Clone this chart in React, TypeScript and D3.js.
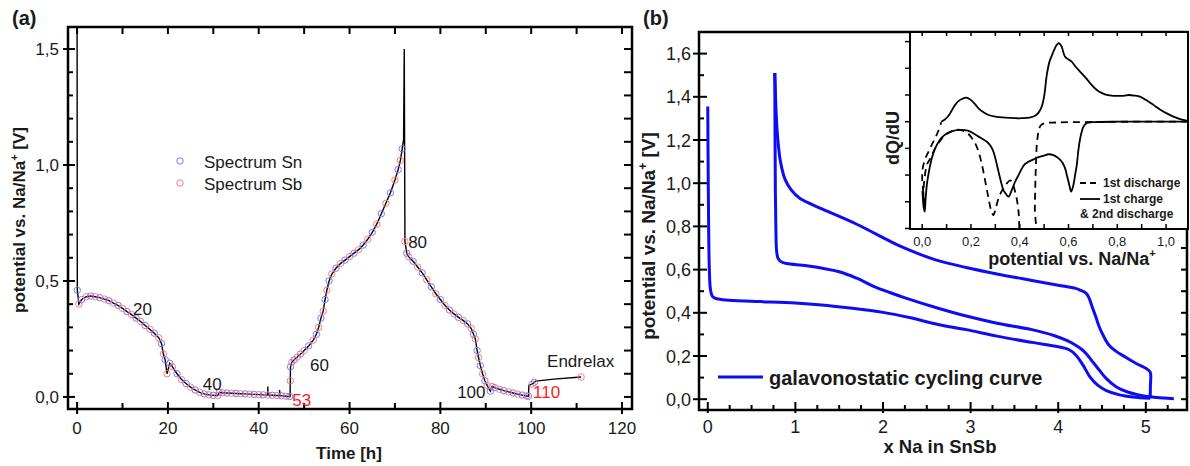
import React from 'react';
import * as d3 from 'd3';

const FONT = "'Liberation Sans', Arial, Helvetica, sans-serif";

// ---------- Panel (a) data ----------
const timeTicksA = [0, 20, 40, 60, 80, 100, 120];
const potTicksA = [0, 0.5, 1.0, 1.5];
const potLabelsA = ['0,0', '0,5', '1,0', '1,5'];
// [time h, potential V, marker(1) or plain line point(0)]
const cycleA: [number, number, number][] = [
  [0, 1.6, 0], [0.05, 0.46, 1], [0.4, 0.4, 1], [1, 0.42, 1], [2, 0.432, 1], [3, 0.435, 1], [4, 0.432, 1],
  [5, 0.428, 1], [6, 0.422, 1], [7, 0.415, 1], [8, 0.405, 1], [9, 0.395, 1], [10, 0.382, 1], [11, 0.368, 1],
  [12, 0.355, 1], [13, 0.34, 1], [14, 0.325, 1], [15, 0.308, 1], [16, 0.292, 1], [17, 0.275, 1],
  [18, 0.255, 1], [18.6, 0.23, 1], [19, 0.185, 1], [19.4, 0.16, 1], [19.8, 0.1, 1], [20.4, 0.145, 1],
  [21, 0.13, 1], [22, 0.1, 1], [23, 0.075, 1], [24, 0.058, 1], [25, 0.042, 1], [26, 0.03, 1], [27, 0.02, 1],
  [28, 0.013, 1], [29, 0.009, 1], [30, 0.007, 1], [31, 0.006, 1], [31.3, 0.02, 1], [32, 0.018, 1],
  [33, 0.017, 1], [34, 0.016, 1], [35, 0.015, 1], [36, 0.014, 1], [37, 0.013, 1], [38, 0.012, 1],
  [39, 0.011, 1], [40, 0.01, 1], [41, 0.009, 1], [42, 0.008, 1], [42, 0.045, 0], [42.05, 0.008, 0],
  [43, 0.007, 1], [44, 0.006, 1], [44.6, 0.006, 0], [44.6, 0.03, 0], [44.65, 0.006, 0], [45, 0.005, 1],
  [46, 0.003, 1], [46.8, 0.002, 1], [46.9, 0.002, 0], [46.95, 0.07, 1], [47.0, 0.13, 1], [47.3, 0.15, 1],
  [47.8, 0.16, 1], [48.5, 0.172, 1], [49.2, 0.185, 1], [50, 0.2, 1], [51, 0.22, 1], [52, 0.245, 1],
  [52.7, 0.27, 1], [53.2, 0.3, 1], [53.7, 0.34, 1], [54.2, 0.37, 1], [54.6, 0.42, 1], [55, 0.46, 1],
  [55.5, 0.5, 1], [56.1, 0.53, 1], [57, 0.555, 1], [58, 0.575, 1], [59, 0.59, 1], [60, 0.605, 1],
  [61, 0.62, 1], [62, 0.635, 1], [63, 0.655, 1], [64, 0.68, 1], [65, 0.71, 1], [66, 0.745, 1],
  [67, 0.79, 1], [68, 0.835, 1], [69, 0.88, 1], [70, 0.935, 1], [70.7, 0.98, 1], [71.2, 1.02, 1],
  [71.6, 1.07, 1], [71.9, 1.11, 0], [72.05, 1.5, 0], [72.2, 0.67, 1], [72.6, 0.62, 1], [73, 0.605, 1],
  [74, 0.585, 1], [75, 0.56, 1], [76, 0.535, 1], [77, 0.505, 1], [78, 0.475, 1], [79, 0.445, 1],
  [80, 0.42, 1], [81, 0.395, 1], [82, 0.375, 1], [83, 0.358, 1], [84, 0.343, 1], [85, 0.33, 1],
  [86, 0.315, 1], [86.8, 0.295, 1], [87.3, 0.27, 1], [87.7, 0.25, 1], [88.1, 0.2, 1], [88.4, 0.17, 1],
  [88.8, 0.135, 1], [89.3, 0.1, 1], [89.8, 0.07, 1], [90.3, 0.05, 1], [91, 0.025, 1], [91.4, 0.045, 1],
  [92, 0.04, 1], [93, 0.033, 1], [94, 0.027, 1], [95, 0.022, 1], [96, 0.017, 1], [97, 0.012, 1],
  [98, 0.008, 1], [99, 0.004, 1], [99.4, 0.003, 1], [99.5, 0.05, 0], [100.2, 0.055, 1], [100.7, 0.063, 1],
  [101, 0.068, 0], [105, 0.077, 0], [111, 0.086, 1],
];
const annotationsA = [
  { text: '20', t: 12.3, v: 0.353, red: false },
  { text: '40', t: 27.7, v: 0.03, red: false },
  { text: '53', t: 47.4, v: -0.039, red: true },
  { text: '60', t: 51.3, v: 0.112, red: false },
  { text: '80', t: 72.9, v: 0.64, red: false },
  { text: '100', t: 83.7, v: -0.004, red: false },
  { text: '110', t: 100.4, v: -0.004, red: true },
  { text: 'Endrelax', t: 103.5, v: 0.13, red: false },
];

// ---------- Panel (b) data ----------
const xTicksB = [0, 1, 2, 3, 4, 5];
const potTicksB = [0, 0.2, 0.4, 0.6, 0.8, 1.0, 1.2, 1.4, 1.6];
const potLabelsB = ['0,0', '0,2', '0,4', '0,6', '0,8', '1,0', '1,2', '1,4', '1,6'];
const firstDischargeB: [number, number][] = [
  [0, 1.355], [0.004, 1.1], [0.01, 0.8], [0.018, 0.6], [0.03, 0.51], [0.05, 0.478], [0.08, 0.468],
  [0.15, 0.462], [0.3, 0.457], [0.6, 0.452], [1.0, 0.445], [1.3, 0.436], [1.6, 0.423], [2.0, 0.402],
  [2.3, 0.378], [2.64, 0.345], [2.95, 0.322], [3.3, 0.292], [3.7, 0.263], [4.0, 0.243], [4.12, 0.23],
  [4.2, 0.205], [4.28, 0.16], [4.36, 0.105], [4.45, 0.065], [4.55, 0.04], [4.7, 0.02], [4.85, 0.01],
  [5.05, 0.004],
];
const firstChargeB: [number, number][] = [
  [5.05, 0.004], [5.052, 0.06], [5.05, 0.125], [5.0, 0.143], [4.9, 0.163], [4.77, 0.194], [4.65, 0.225],
  [4.58, 0.25], [4.52, 0.29], [4.47, 0.333], [4.43, 0.38], [4.39, 0.425], [4.35, 0.47], [4.32, 0.49],
  [4.25, 0.505], [4.2, 0.513], [4.0, 0.528], [3.7, 0.55], [3.3, 0.58], [2.95, 0.61], [2.6, 0.645],
  [2.19, 0.71], [2.04, 0.74], [1.7, 0.81], [1.31, 0.88], [1.05, 0.93], [0.95, 0.97], [0.88, 1.02],
  [0.83, 1.1], [0.8, 1.2], [0.78, 1.33], [0.77, 1.45], [0.765, 1.51],
];
const secondDischargeB: [number, number][] = [
  [0.765, 1.51], [0.768, 1.2], [0.772, 0.95], [0.778, 0.78], [0.785, 0.69], [0.8, 0.655], [0.83, 0.638],
  [0.9, 0.628], [1.13, 0.618], [1.5, 0.59], [1.7, 0.56], [1.88, 0.525], [2.07, 0.495], [2.26, 0.468],
  [2.64, 0.42], [2.95, 0.385], [3.3, 0.352], [3.7, 0.322], [3.95, 0.295], [4.09, 0.273], [4.2, 0.25],
  [4.27, 0.23], [4.32, 0.21], [4.4, 0.17], [4.47, 0.134], [4.55, 0.095], [4.66, 0.058], [4.8, 0.032],
  [4.92, 0.02], [5.07, 0.01], [5.2, 0.005], [5.32, 0.002],
];

// ---------- Inset data (dQ/dU, arbitrary units) ----------
const insetTicks = [0, 0.2, 0.4, 0.6, 0.8, 1.0];
const insetLabels = ['0,0', '0,2', '0,4', '0,6', '0,8', '1,0'];
const insetCharge: [number, number][] = [
  [0.078, 0], [0.093, 0.08], [0.108, 0.22], [0.12, 0.4], [0.135, 0.63], [0.15, 0.78], [0.163, 0.85],
  [0.18, 0.9], [0.192, 0.86], [0.204, 0.78], [0.218, 0.64], [0.231, 0.5], [0.25, 0.36], [0.272, 0.25],
  [0.3, 0.19], [0.34, 0.15], [0.38, 0.13], [0.409, 0.13], [0.44, 0.15], [0.463, 0.22], [0.478, 0.35],
  [0.49, 0.56], [0.5, 0.95], [0.511, 1.75], [0.522, 2.25], [0.538, 2.62], [0.55, 2.85], [0.559, 2.94],
  [0.566, 2.9], [0.572, 2.81], [0.586, 2.43], [0.6, 2.33], [0.613, 2.25], [0.63, 2.05], [0.648, 1.87],
  [0.67, 1.65], [0.689, 1.44], [0.716, 1.19], [0.74, 1.06], [0.757, 1.0], [0.785, 0.97], [0.811, 0.97],
  [0.83, 0.98], [0.846, 1.0], [0.87, 0.98], [0.893, 0.94], [0.92, 0.8], [0.948, 0.63], [0.975, 0.46],
  [1.003, 0.31], [1.03, 0.19], [1.057, 0.1], [1.09, 0.03],
];
const insetSecondDischarge: [number, number][] = [
  [1.09, 0], [0.8, 0], [0.7, -0.02], [0.675, -0.05], [0.661, -0.19], [0.655, -0.35], [0.648, -0.62],
  [0.64, -1.1], [0.634, -1.62], [0.627, -2.0], [0.62, -2.37], [0.611, -2.62], [0.605, -2.45], [0.6, -2.25],
  [0.593, -2.0], [0.586, -1.75], [0.576, -1.55], [0.566, -1.43], [0.552, -1.32], [0.538, -1.25],
  [0.518, -1.22], [0.5, -1.27], [0.484, -1.31], [0.47, -1.35], [0.455, -1.42], [0.436, -1.5], [0.42, -1.6],
  [0.409, -1.75], [0.395, -2.0], [0.381, -2.25], [0.368, -2.55], [0.354, -2.81], [0.343, -2.7],
  [0.333, -2.56], [0.323, -2.25], [0.313, -1.87], [0.302, -1.45], [0.292, -1.12], [0.28, -0.9],
  [0.265, -0.75], [0.248, -0.65], [0.231, -0.56], [0.214, -0.46], [0.197, -0.37], [0.175, -0.32],
  [0.149, -0.31], [0.125, -0.35], [0.101, -0.44], [0.08, -0.6], [0.06, -0.87], [0.045, -1.2],
  [0.033, -1.62], [0.025, -2.0], [0.019, -2.37], [0.014, -2.9], [0.01, -3.37], [0.006, -3.2],
  [0.003, -2.9], [0.001, -2.6],
];
const insetFirstDischarge: [number, number][] = [
  [1.09, 0], [0.9, 0], [0.7, -0.01], [0.55, -0.03], [0.5, -0.06], [0.485, -0.15], [0.477, -0.37],
  [0.47, -0.87], [0.465, -2.0], [0.462, -3.2], [0.46, -4.6], [0.4, -4.6], [0.398, -3.9], [0.395, -3.37],
  [0.388, -2.9], [0.381, -2.62], [0.37, -2.3], [0.361, -2.2], [0.35, -2.28], [0.34, -2.4], [0.325, -2.62],
  [0.313, -2.87], [0.3, -3.3], [0.292, -3.5], [0.282, -3.3], [0.272, -2.87], [0.262, -2.4], [0.251, -1.87],
  [0.241, -1.45], [0.231, -1.12], [0.218, -0.82], [0.204, -0.62], [0.19, -0.46], [0.176, -0.37],
  [0.155, -0.31], [0.135, -0.31], [0.115, -0.38], [0.094, -0.5], [0.075, -0.7], [0.053, -1.0],
  [0.035, -1.35], [0.019, -1.62], [0.01, -2.1], [0.005, -2.62], [0.008, -3.0], [0.012, -3.12],
  [0.004, -2.6], [0.0, -2.1], [0.002, -1.75], [0.012, -1.4], [0.026, -1.12], [0.04, -0.85], [0.053, -0.62],
  [0.066, -0.35], [0.078, -0.02],
];

// ---------- scales ----------
const xA = d3.scaleLinear().domain([-2, 122.2]).range([68, 632]);
const yA = d3.scaleLinear().domain([-0.052, 1.595]).range([409, 27]);
const xB = d3.scaleLinear().domain([-0.1, 5.47]).range([699, 1187]);
const yB = d3.scaleLinear().domain([-0.05, 1.7]).range([410, 32]);
const xI = d3.scaleLinear().domain([-0.05, 1.09]).range([910, 1188]);
const yI = d3.scaleLinear().domain([-4.02, 3.36]).range([229, 32]);

const BLUE = '#0c0cf5';
const INK = '#1a1a1a';

function range(a: number, b: number, step: number) {
  const out: number[] = [];
  for (let v = a; v <= b + 1e-9; v += step) out.push(Math.round(v * 1000) / 1000);
  return out;
}

export default function App() {
  const lineA = d3.line<[number, number, number]>().x(d => xA(d[0])).y(d => yA(d[1]));
  const markers = cycleA.filter(d => d[2] === 1);
  const lineBs = d3.line<[number, number]>().x(d => xB(d[0])).y(d => yB(d[1])).curve(d3.curveCatmullRom.alpha(0.5));
  const lineI = d3.line<[number, number]>().x(d => xI(d[0])).y(d => yI(d[1])).curve(d3.curveCatmullRom.alpha(0.5));

  const fA = { l: 68, r: 632, t: 27, b: 409 };
  const fB = { l: 699, r: 1187, t: 32, b: 410 };
  const fI = { l: 910, r: 1188, t: 32, b: 229 };

  return (
    <svg width={1190} height={466} style={{ position: 'absolute', left: 0, top: 0, background: '#fff' }}
      fontFamily={FONT}>
      <defs>
        <clipPath id="clipA"><rect x={fA.l} y={fA.t} width={fA.r - fA.l} height={fA.b - fA.t} /></clipPath>
        <clipPath id="clipB"><rect x={fB.l} y={fB.t} width={fB.r - fB.l} height={fB.b - fB.t} /></clipPath>
        <clipPath id="clipI"><rect x={fI.l} y={fI.t} width={fI.r - fI.l} height={fI.b - fI.t} /></clipPath>
      </defs>
      <rect width={1190} height={466} fill="#fff" />

      {/* ================= Panel (a) ================= */}
      <text x={12} y={25} fontSize={20} fontWeight="bold" fill={INK}>(a)</text>
      <g clipPath="url(#clipA)">
        <path d={lineA(cycleA) || ''} fill="none" stroke="#000" strokeWidth={1.4} />
        {markers.map((d, i) => (
          <circle key={i} cx={xA(d[0])} cy={yA(d[1])} r={3.2} fill="none"
            stroke={i % 2 === 0 ? '#7878ff' : '#ff7a7a'} strokeWidth={1} />
        ))}
      </g>
      <rect x={fA.l} y={fA.t} width={fA.r - fA.l} height={fA.b - fA.t} fill="none" stroke="#000" strokeWidth={2.5} />
      {range(0, 120, 10).map(v => {
        const major = v % 20 === 0;
        return <line key={'ab' + v} x1={xA(v)} x2={xA(v)} y1={fA.b - (major ? 7 : 6)} y2={fA.b + (major ? 5 : 0)} stroke="#000" strokeWidth={2} />;
      })}
      {range(0, 120, 10).map(v => (
        <line key={'at' + v} x1={xA(v)} x2={xA(v)} y1={fA.t} y2={fA.t + 7} stroke="#000" strokeWidth={2} />
      ))}
      {timeTicksA.map(v => (
        <text key={'axl' + v} x={xA(v)} y={434} fontSize={17} textAnchor="middle" fill={INK}>{v}</text>
      ))}
      {range(0, 1.5, 0.1).map(v => {
        const major = Math.abs((v * 10) % 5) < 1e-6;
        return <line key={'al' + v} x1={fA.l - (major ? 5 : 0)} x2={fA.l + (major ? 7 : 5)} y1={yA(v)} y2={yA(v)} stroke="#000" strokeWidth={2} />;
      })}
      {range(0, 1.5, 0.1).map(v => (
        <line key={'ar' + v} x1={fA.r - 8} x2={fA.r} y1={yA(v)} y2={yA(v)} stroke="#000" strokeWidth={2} />
      ))}
      {potTicksA.map((v, i) => (
        <text key={'ayl' + v} x={59} y={yA(v) + 6} fontSize={17} textAnchor="end" fill={INK}>{potLabelsA[i]}</text>
      ))}
      <text x={349} y={459} fontSize={17} fontWeight="bold" textAnchor="middle" fill={INK}>Time [h]</text>
      <text transform={`translate(25,220) rotate(-90)`} fontSize={17} fontWeight="bold" textAnchor="middle" fill={INK}>
        potential vs. Na/Na<tspan dy={-7} fontSize={11}>+</tspan><tspan dy={7}> [V]</tspan>
      </text>
      {annotationsA.map(a => (
        <text key={a.text} x={xA(a.t)} y={yA(a.v)} fontSize={17} fill={a.red ? '#ff1a1a' : INK}>{a.text}</text>
      ))}
      <circle cx={180} cy={161} r={3.2} fill="none" stroke="#7878ff" strokeWidth={1} />
      <text x={204} y={168} fontSize={17} fill={INK}>Spectrum Sn</text>
      <circle cx={180} cy={183} r={3.2} fill="none" stroke="#ff7a7a" strokeWidth={1} />
      <text x={204} y={190} fontSize={17} fill={INK}>Spectrum Sb</text>

      {/* ================= Panel (b) ================= */}
      <text x={643} y={25} fontSize={20} fontWeight="bold" fill={INK}>(b)</text>
      <g clipPath="url(#clipB)" fill="none" stroke={BLUE} strokeWidth={3} strokeLinejoin="round">
        <path d={lineBs(firstDischargeB) || ''} />
        <path d={lineBs(firstChargeB) || ''} />
        <path d={lineBs(secondDischargeB) || ''} />
      </g>
      <rect x={fB.l} y={fB.t} width={fB.r - fB.l} height={fB.b - fB.t} fill="none" stroke="#000" strokeWidth={2.5} />
      {range(0, 5.25, 0.25).map(v => {
        const major = Math.abs(v - Math.round(v)) < 1e-6;
        return <line key={'bb' + v} x1={xB(v)} x2={xB(v)} y1={fB.b - (major ? 8 : 5)} y2={fB.b + (major ? 3 : 0)} stroke="#000" strokeWidth={2} />;
      })}
      {xTicksB.map(v => (
        <text key={'bxl' + v} x={xB(v)} y={433} fontSize={18} textAnchor="middle" fill={INK}>{v}</text>
      ))}
      {range(0, 1.6, 0.1).map(v => {
        const major = Math.abs((v * 10) % 2) < 1e-6;
        return <line key={'bl' + v} x1={fB.l - (major ? 6 : 0)} x2={fB.l + (major ? 8 : 5)} y1={yB(v)} y2={yB(v)} stroke="#000" strokeWidth={2} />;
      })}
      {range(0, 1.6, 0.1).map(v => (
        <line key={'br' + v} x1={fB.r - 6} x2={fB.r} y1={yB(v)} y2={yB(v)} stroke="#000" strokeWidth={2} />
      ))}
      {potTicksB.map((v, i) => (
        <text key={'byl' + v} x={691} y={yB(v) + 6.5} fontSize={18} textAnchor="end" fill={INK}>{potLabelsB[i]}</text>
      ))}
      <text x={xB(2.65)} y={453} fontSize={18.5} fontWeight="bold" textAnchor="middle" fill={INK}>x Na in SnSb</text>
      <text transform={`translate(655,236) rotate(-90)`} fontSize={19} fontWeight="bold" textAnchor="middle" fill={INK}>
        potential vs. Na/Na<tspan dy={-8} fontSize={12}>+</tspan><tspan dy={8}> [V]</tspan>
      </text>
      <line x1={718} x2={763} y1={377} y2={377} stroke={BLUE} strokeWidth={3} />
      <text x={769} y={385} fontSize={20} fontWeight="bold" fill={INK}>galavonostatic cycling curve</text>

      {/* ================= Inset ================= */}
      <rect x={fI.l} y={fI.t} width={fI.r - fI.l} height={fI.b - fI.t} fill="#fff" />
      <g clipPath="url(#clipI)" fill="none" stroke="#000" strokeWidth={1.8} strokeLinejoin="round">
        <path d={lineI(insetFirstDischarge) || ''} strokeDasharray="7,5" />
        <path d={lineI(insetCharge) || ''} />
        <path d={lineI(insetSecondDischarge) || ''} />
      </g>
      <rect x={fI.l} y={fI.t} width={fI.r - fI.l} height={fI.b - fI.t} fill="none" stroke="#000" strokeWidth={2} />
      {range(-4, 3, 1).map(v => (
        <line key={'il' + v} x1={fI.l - 5} x2={fI.l} y1={yI(v)} y2={yI(v)} stroke="#000" strokeWidth={1.5} />
      ))}
      {range(0, 1.0, 0.1).map(v => (
        <line key={'it' + v} x1={xI(v)} x2={xI(v)} y1={fI.t} y2={fI.t + 4} stroke="#000" strokeWidth={1.5} />
      ))}
      {range(0, 1.0, 0.1).map(v => (
        <line key={'ib' + v} x1={xI(v)} x2={xI(v)} y1={fI.b - 5} y2={fI.b} stroke="#000" strokeWidth={1.5} />
      ))}
      {insetTicks.map((v, i) => (
        <text key={'ixl' + v} x={xI(v)} y={246} fontSize={13} textAnchor="middle" fill={INK}>{insetLabels[i]}</text>
      ))}
      <text x={1072} y={265} fontSize={18} fontWeight="bold" textAnchor="middle" fill={INK}>
        potential vs. Na/Na<tspan dy={-8} fontSize={11}>+</tspan>
      </text>
      <text transform={`translate(899,138) rotate(-90)`} fontSize={18} fontWeight="bold" textAnchor="middle" fill={INK}>dQ/dU</text>
      <line x1={1080} x2={1100} y1={183} y2={183} stroke="#000" strokeWidth={1.8} strokeDasharray="6,4" />
      <text x={1103} y={187} fontSize={12} fontWeight="bold" fill={INK}>1st discharge</text>
      <line x1={1080} x2={1100} y1={199} y2={199} stroke="#000" strokeWidth={1.8} />
      <text x={1103} y={203} fontSize={12} fontWeight="bold" fill={INK}>1st charge</text>
      <text x={1080} y={218} fontSize={12} fontWeight="bold" fill={INK}>&amp; 2nd discharge</text>
    </svg>
  );
}
